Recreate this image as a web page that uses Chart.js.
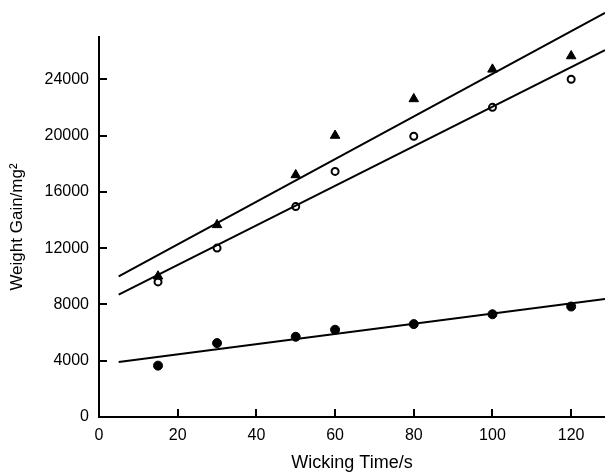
<!DOCTYPE html>
<html>
<head>
<meta charset="utf-8">
<script src="https://cdn.jsdelivr.net/npm/chart.js@4.4.1/dist/chart.umd.min.js"></script>
<style>
  html, body { margin: 0; padding: 0; background: #fff; }
  #wrap { width: 605px; height: 474px; position: relative; }
</style>
</head>
<body>
<div id="wrap"><canvas id="wickChart"></canvas></div>
<script>
// data
const times = [15, 30, 50, 60, 80, 100, 120];
const triangleGain = [10000, 13650, 17200, 20000, 22600, 24700, 25650];
const openGain = [9600, 12000, 14950, 17450, 19950, 22000, 24000];
const filledGain = [3650, 5250, 5700, 6200, 6600, 7300, 7850];

// fitted lines: two end points each
const fitTimes = [5, 128.6];
const triangleFit = [10000, 28720];
const openFit = [8700, 26070];
const filledFit = [3900, 8380];

const xTicks = [0, 20, 40, 60, 80, 100, 120];
const yTicks = [0, 4000, 8000, 12000, 16000, 20000, 24000];

const pts = (xs, ys) => xs.map((x, i) => ({ x: x, y: ys[i] }));

// inward tick marks
const insideTicks = {
  id: 'insideTicks',
  afterDraw(chart) {
    const c = chart.ctx;
    const xs = chart.scales.x, ys = chart.scales.y;
    c.save();
    c.strokeStyle = '#000';
    c.lineWidth = 2;
    xTicks.forEach(v => {
      const px = Math.round(xs.getPixelForValue(v));
      c.beginPath();
      c.moveTo(px, xs.top);
      c.lineTo(px, xs.top - 8);
      c.stroke();
    });
    yTicks.forEach(v => {
      const py = Math.round(ys.getPixelForValue(v));
      c.beginPath();
      c.moveTo(ys.right, py);
      c.lineTo(ys.right + 8, py);
      c.stroke();
    });
    c.restore();
  }
};

const tickFont = { family: 'Liberation Sans, Arial, sans-serif', size: 16 };

const ctx = document.getElementById('wickChart').getContext('2d');
new Chart(ctx, {
  type: 'scatter',
  data: {
    datasets: [
      {
        data: pts(fitTimes, triangleFit), showLine: true, clip: false,
        borderColor: '#000', borderWidth: 2, pointRadius: 0
      },
      {
        data: pts(fitTimes, openFit), showLine: true, clip: false,
        borderColor: '#000', borderWidth: 2, pointRadius: 0
      },
      {
        data: pts(fitTimes, filledFit), showLine: true, clip: false,
        borderColor: '#000', borderWidth: 2, pointRadius: 0
      },
      {
        data: pts(times, triangleGain), pointStyle: 'triangle', pointRadius: 5.5,
        backgroundColor: '#000', borderColor: '#000', borderWidth: 1
      },
      {
        data: pts(times, openGain), pointStyle: 'circle', pointRadius: 3.5,
        backgroundColor: '#fff', borderColor: '#000', borderWidth: 2
      },
      {
        data: pts(times, filledGain), pointStyle: 'circle', pointRadius: 4.5,
        backgroundColor: '#000', borderColor: '#000', borderWidth: 1
      }
    ]
  },
  options: {
    responsive: true,
    maintainAspectRatio: false,
    animation: false,
    layout: { autoPadding: false, padding: { top: 37, right: 0, left: 0, bottom: 0 } },
    plugins: { legend: { display: false }, tooltip: { enabled: false } },
    scales: {
      x: {
        type: 'linear',
        min: 0,
        max: 128.6,
        afterBuildTicks: s => { s.ticks = xTicks.map(v => ({ value: v })); },
        afterFit: s => { s.height = 57; s.paddingLeft = 0; s.paddingRight = 0; },
        grid: { display: false, drawTicks: false },
        border: { display: true, color: '#000', width: 2 },
        ticks: {
          color: '#000', padding: 9, font: tickFont,
          callback: v => String(v)
        },
        title: {
          display: true, text: 'Wicking Time/s', color: '#000',
          padding: { top: 0, bottom: 0 },
          font: { family: 'Liberation Sans, Arial, sans-serif', size: 18 }
        }
      },
      y: {
        type: 'linear',
        min: 0,
        max: 27000,
        afterBuildTicks: s => { s.ticks = yTicks.map(v => ({ value: v })); },
        afterFit: s => { s.width = 99; s.paddingTop = 0; s.paddingBottom = 0; },
        grid: { display: false, drawTicks: false },
        border: { display: true, color: '#000', width: 2 },
        ticks: {
          color: '#000', padding: 10, font: tickFont,
          callback: v => String(v)
        },
        title: {
          display: true, text: 'Weight Gain/mg²', color: '#000',
          padding: { top: 7, bottom: 0 },
          font: { family: 'Liberation Sans, Arial, sans-serif', size: 17 }
        }
      }
    }
  },
  plugins: [insideTicks]
});
</script>
</body>
</html>
